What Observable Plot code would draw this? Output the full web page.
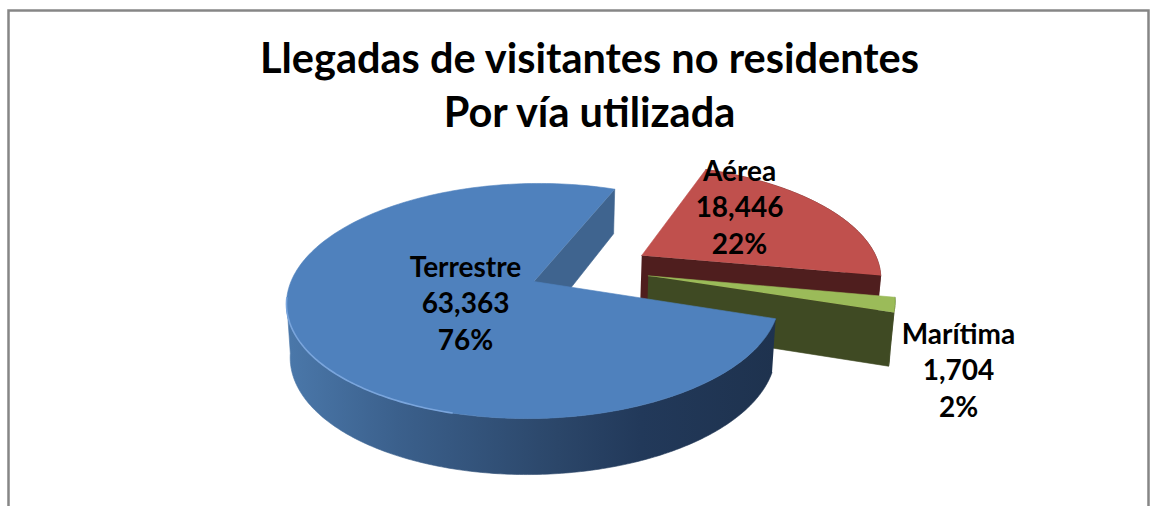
<!DOCTYPE html>
<html><head><meta charset="utf-8">
<script src="https://cdn.jsdelivr.net/npm/d3@7"></script>
<script src="https://cdn.jsdelivr.net/npm/@observablehq/plot@0.6"></script>
<style>html,body{margin:0;padding:0;background:#fff;overflow:hidden}svg{display:block}</style>
</head><body><div id="chart"></div>
<script>
const categories = ["Terrestre", "Aérea", "Marítima"];
const visitors = [63363, 18446, 1704];
const titleLines = ["Llegadas de visitantes no residentes", "Por vía utilizada"];

// presentation of the pie (not data)
const W = 1158, H = 506;
const topColors = ["#4f81bd", "#c0504d", "#9bbb59"];
const cutColors = ["#3f648f", "#4f1e1e", "#3f4a23"];
const explode = [[0, 0], [0.455, -0.237], [0.473, -0.05]];
const labelAt = [[465, 301], [739, 205], [958, 368]];
const cam = {X0: 533.5, Y0: 281, A: 243, B: 114.3, k: 0.166, shear: -6, startDeg: 108, silhouetteDeg: 261};
const wallStops = [[0, "#4a77a9"], [0.22, "#3b608c"], [0.55, "#2b4669"], [0.72, "#22395a"], [1, "#1e324e"]];
const FONT = "Lato, Carlito, 'Open Sans', sans-serif";

const total = d3.sum(visitors);
const project = (u, v, bottom) => {
  const w = 1 - cam.k * v;
  const t = bottom ? 53 + (v > 0 ? 3 : 9) * v : 0;
  const s = bottom ? 0.985 : 1;
  return [cam.X0 + s * cam.A * u / w + cam.shear * v / w, cam.Y0 + cam.B * v / w + t];
};
const disc = (deg, i, r = 1) => {
  const a = deg * Math.PI / 180;
  return [explode[i][0] + r * Math.sin(a), explode[i][1] - r * Math.cos(a)];
};
const rows = [];
let id = 0;
const shape = (pts, color) => {
  const z = id++;
  pts.forEach(([x, y]) => rows.push({x, y, z, color}));
};
// angles of each slice from its value
let cursor = cam.startDeg;
const slices = visitors.map((value, i) => {
  const start = cursor, end = cursor + value / total * 360;
  cursor = end;
  return {i, start, end};
});
const arc = (s, bottom, from = s.start, to = s.end, n = 200) =>
  d3.range(n + 1).map(j => {
    const [u, v] = disc(from + (to - from) * j / n, s.i);
    return project(u, v, bottom);
  });

function drawSlice(s) {
  const apexTop = project(...disc(0, s.i, 0), false);
  const apexBot = project(...disc(0, s.i, 0), true);
  const outerTop = arc(s, false);
  const [eu, ev] = disc(s.end, s.i);
  const eT = outerTop[outerTop.length - 1];
  if (s.i === 0) {
    // visible cut face at the slice's far end, then the outer wall
    shape([apexTop, eT, project(eu, ev, true), apexBot], cutColors[0]);
    shape([...arc(s, false, s.start, cam.silhouetteDeg), ...arc(s, true, s.start, cam.silhouetteDeg).reverse()], "url(#wall)");
  } else {
    // the outer wall sliver, and the cut face that looks at the viewer
    shape([...outerTop, ...arc(s, true).reverse()], cutColors[s.i]);
    shape([apexTop, eT, project(eu, ev, true), apexBot], cutColors[s.i]);
  }
  shape([apexTop, ...outerTop], topColors[s.i]);
}
drawSlice(slices[1]);
drawSlice(slices[2]);
drawSlice(slices[0]);

const rim = arc(slices[0], false, 195, 262, 80).map(([x, y]) => ({x, y}));

const labels = categories.map((c, i) => ({
  x: labelAt[i][0], y: labelAt[i][1],
  text: `${c}\n${d3.format(",")(visitors[i])}\n${d3.format(".0%")(visitors[i] / total)}`
}));

const gradient = () => {
  const defs = d3.create("svg:defs");
  const g = defs.append("linearGradient").attr("id", "wall")
    .attr("gradientUnits", "userSpaceOnUse")
    .attr("x1", 290).attr("x2", 776).attr("y1", 0).attr("y2", 0);
  wallStops.forEach(([o, c]) => g.append("stop").attr("offset", o).attr("stop-color", c));
  return defs.node();
};

const plot = Plot.plot({
  width: W, height: H,
  margin: 0,
  style: {background: "#fff", fontFamily: FONT},
  x: {domain: [0, W], range: [0, W], axis: null},
  y: {domain: [0, H], range: [0, H], axis: null},
  color: {type: "identity"},
  marks: [
    gradient,
    Plot.frame({stroke: "#868686", strokeWidth: 2.5, insetLeft: 8, insetTop: 10, insetRight: 10, insetBottom: -10}),
    Plot.line(rows, {x: "x", y: "y", z: "z", fill: "color", stroke: "color", strokeWidth: 0.6, curve: "linear"}),
    Plot.line(rim, {x: "x", y: "y", stroke: "#7aa5dc", strokeWidth: 1.6}),
    Plot.text(labels, {x: "x", y: "y", text: "text", fontSize: 28, fontWeight: 700, fill: "#000", lineHeight: 1.31, textAnchor: "middle"}),
    Plot.text([titleLines.join("\n")], {x: () => 589, y: () => 82, text: d => d, fontSize: 41.5, fontWeight: 700, fill: "#000", lineHeight: 1.32, textAnchor: "middle"})
  ]
});
document.getElementById("chart").append(plot);
</script></body></html>
